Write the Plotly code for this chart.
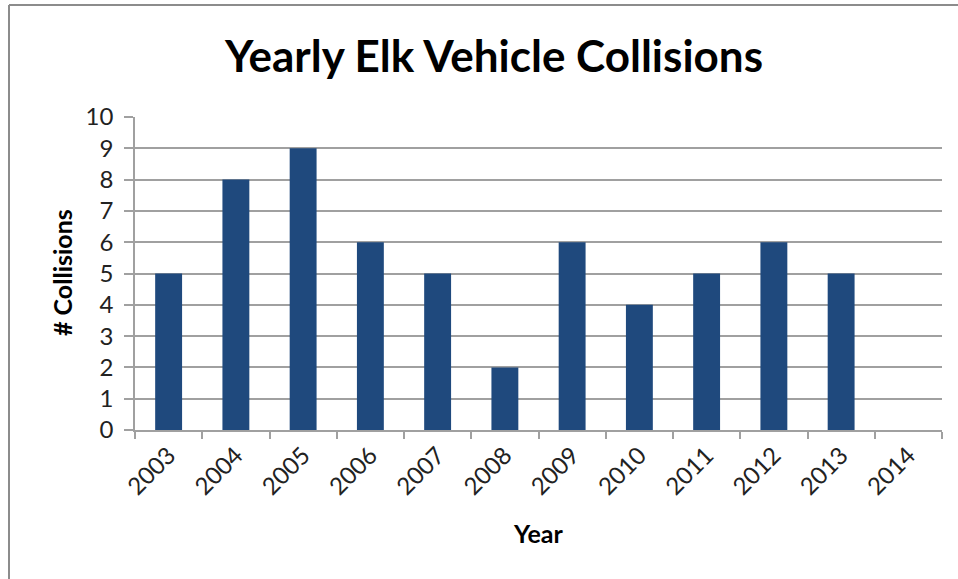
import plotly.graph_objects as go

# Yearly elk-vehicle collision counts
years = ["2003", "2004", "2005", "2006", "2007", "2008",
         "2009", "2010", "2011", "2012", "2013", "2014"]
collisions = [5, 8, 9, 6, 5, 2, 6, 4, 5, 6, 5, 0]
y_ticks = list(range(0, 11))

W, H = 958, 579
ML, MR, MT, MB = 135, 16, 117, 149
PW = W - ML - MR
PH = H - MT - MB


def px_x(x):
    return (x - ML) / PW


def px_y(y):
    return (H - MB - y) / PH


FONT = "Lato"
GRID = "#a0a0a0"

fig = go.Figure(
    go.Bar(
        x=years,
        y=collisions,
        marker=dict(color="#1f497d", line=dict(width=0)),
        hoverinfo="x+y",
    )
)

fig.update_layout(
    width=W,
    height=H,
    margin=dict(l=ML, r=MR, t=MT, b=MB),
    paper_bgcolor="white",
    plot_bgcolor="white",
    bargap=0.6,
    showlegend=False,
    title=dict(
        text="<b>Yearly Elk Vehicle Collisions</b>",
        font=dict(family=FONT, size=44, color="black"),
        x=494 / W,
        xref="container",
        xanchor="center",
        y=1 - 57 / H,
        yref="container",
        yanchor="middle",
    ),
    xaxis=dict(
        type="category",
        tickson="boundaries",
        ticks="outside",
        ticklen=7,
        tickcolor=GRID,
        tickwidth=1.5,
        tickangle=-45,
        tickfont=dict(family=FONT, size=24, color="#222"),
        showline=True,
        linecolor=GRID,
        linewidth=1.5,
        showgrid=False,
    ),
    yaxis=dict(
        range=[0, 10],
        tickvals=y_ticks,
        ticks="outside",
        ticklen=9,
        tickcolor=GRID,
        tickwidth=1.5,
        tickfont=dict(family=FONT, size=24, color="#222"),
        ticklabelstandoff=6,
        showline=True,
        linecolor=GRID,
        linewidth=1.5,
        showgrid=True,
        gridcolor=GRID,
        gridwidth=1.5,
        zeroline=False,
    ),
    annotations=[
        dict(
            text="<b># Collisions</b>",
            x=px_x(62), y=px_y(273),
            xref="paper", yref="paper",
            xanchor="center", yanchor="middle",
            textangle=-90, showarrow=False,
            font=dict(family=FONT, size=25, color="black"),
        ),
        dict(
            text="<b>Year</b>",
            x=px_x(538), y=px_y(533),
            xref="paper", yref="paper",
            xanchor="center", yanchor="middle",
            showarrow=False,
            font=dict(family=FONT, size=25, color="black"),
        ),
    ],
    shapes=[
        # chart frame: top and left edges
        dict(type="line", xref="paper", yref="paper",
             x0=px_x(9), x1=px_x(W + 5), y0=px_y(5), y1=px_y(5),
             line=dict(color="#8c8c8c", width=2)),
        dict(type="line", xref="paper", yref="paper",
             x0=px_x(9), x1=px_x(9), y0=px_y(5), y1=px_y(H + 5),
             line=dict(color="#8c8c8c", width=2)),
    ],
)

fig.write_html("out.html")
